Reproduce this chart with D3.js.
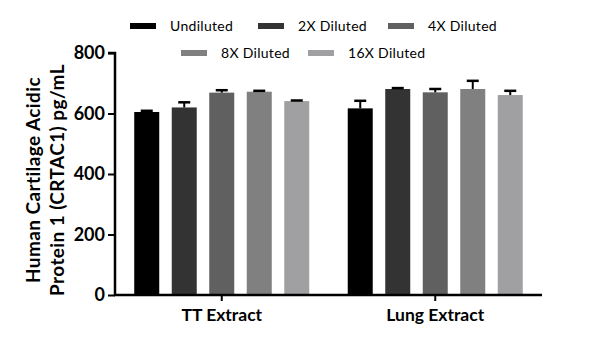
<!DOCTYPE html>
<html><head><meta charset="utf-8">
<script src="https://cdn.jsdelivr.net/npm/d3@7"></script>
<style>body{margin:0;background:#fff;} svg{display:block;}</style>
</head><body>
<svg id="c" width="600" height="345"></svg>
<script>
const groups = ["TT Extract", "Lung Extract"];
const series = ["Undiluted", "2X Diluted", "4X Diluted", "8X Diluted", "16X Diluted"];
const values = {
  "Undiluted":   [605, 617],
  "2X Diluted":  [620, 681],
  "4X Diluted":  [669, 670],
  "8X Diluted":  [672, 681],
  "16X Diluted": [641, 661]
};
const errors = {
  "Undiluted":   [4, 25],
  "2X Diluted":  [17, 3],
  "4X Diluted":  [8, 11],
  "8X Diluted":  [3, 27],
  "16X Diluted": [2, 14]
};
const colors = ["#000000", "#333333", "#606060", "#808080", "#a0a0a2"];
const yTicks = [0, 200, 400, 600, 800];

const font = "'Century Gothic', 'URW Gothic', 'Lato', 'Noto Sans', sans-serif";
const svg = d3.select("#c");
const x0 = d3.scaleBand().domain(groups).range([115, 542]).paddingInner(0).paddingOuter(0);
const x1 = d3.scaleBand().domain(series).range([0, x0.bandwidth()]).paddingInner(1/3).paddingOuter(0.513);
const y = d3.scaleLinear().domain([0, 800]).range([295, 53]);

// bars
groups.forEach((g, gi) => {
  series.forEach((s, si) => {
    const cx = x0(g) + x1(s);
    const w = x1.bandwidth();
    svg.append("rect").attr("x", cx).attr("y", y(values[s][gi]))
      .attr("width", w).attr("height", y(0) - y(values[s][gi])).attr("fill", colors[si]);
    const mx = cx + w / 2;
    const top = y(values[s][gi] + errors[s][gi]);
    svg.append("line").attr("x1", mx).attr("x2", mx).attr("y1", y(values[s][gi])).attr("y2", top)
      .attr("stroke", "#000").attr("stroke-width", 2);
    svg.append("line").attr("x1", mx - 6).attr("x2", mx + 6).attr("y1", top).attr("y2", top)
      .attr("stroke", "#000").attr("stroke-width", 2.5);
  });
});

// y axis
const yAxis = svg.append("g").attr("transform", "translate(115,0)")
  .call(d3.axisLeft(y).tickValues(yTicks).tickSize(7).tickPadding(3));
yAxis.select(".domain").attr("stroke-width", 2.5).attr("d", `M-7,${y(800)}H0V${y(0)}`);
yAxis.selectAll(".tick line").attr("stroke-width", 2);
yAxis.selectAll("text").attr("font-family", font).attr("font-weight", "bold").attr("font-size", 18).attr("fill", "#000");

// x axis
const xAxis = svg.append("g").attr("transform", `translate(0,${y(0)})`)
  .call(d3.axisBottom(x0).tickSize(6).tickPadding(8));
xAxis.select(".domain").attr("stroke-width", 2.5).attr("d", `M114,0H542`);
xAxis.selectAll(".tick line").attr("stroke-width", 2);
xAxis.selectAll("text").attr("font-family", font).attr("font-weight", "bold").attr("font-size", 17.5).attr("fill", "#000");

// y title
const yt = svg.append("text").attr("transform", "translate(0,180) rotate(-90)")
  .attr("text-anchor", "middle").attr("font-family", font).attr("font-weight", "bold")
  .attr("font-size", 19).attr("letter-spacing", 0.4);
yt.append("tspan").attr("x", 0).attr("y", 40).text("Human Cartilage Acidic");
yt.append("tspan").attr("x", 0).attr("y", 64).text("Protein 1 (CRTAC1) pg/mL");

// legend
const legPos = [[130, 26], [258, 26], [388, 26], [181, 53], [308, 53]];
series.forEach((s, i) => {
  const [lx, ly] = legPos[i];
  svg.append("rect").attr("x", lx).attr("y", ly - 3).attr("width", 26).attr("height", 6).attr("fill", colors[i]);
  svg.append("text").attr("x", lx + 40).attr("y", ly + 5).attr("font-family", font)
    .attr("font-size", 14).attr("letter-spacing", 0.3).attr("fill", "#000").text(s);
});
</script>
</body></html>
